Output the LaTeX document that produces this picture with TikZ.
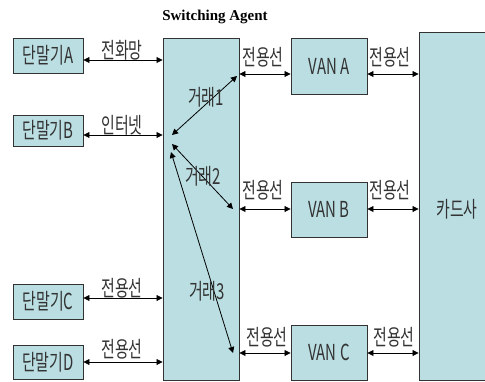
\documentclass[tikz,border=0pt]{standalone}
\usepackage{fontspec}
\setmainfont[FakeStretch=0.68]{Noto Sans CJK KR}
\newfontfamily\titlefont{Liberation Serif}
\usetikzlibrary{arrows.meta}
\definecolor{boxfill}{RGB}{186,222,226}
\definecolor{boxline}{RGB}{50,50,50}
\begin{document}
\begin{tikzpicture}[x=1pt,y=-1pt,
  box/.style={draw=boxline,line width=0.9pt,fill=boxfill,inner sep=0pt,
    font=\fontsize{22}{22}\selectfont,text=black!80},
  lbl/.style={inner sep=0pt,font=\fontsize{22}{22}\selectfont,text=black!80},
  conn/.style={line width=0.8pt,{Triangle[length=6pt,width=6pt]}-{Triangle[length=6pt,width=6pt]}}]
\useasboundingbox (0,0) rectangle (485,381);
\fill[white] (0,0) rectangle (485,381);
% boxes
\node[box,minimum width=70pt,minimum height=35pt] (tA) at (48,55.5) {단말기A};
\node[box,minimum width=70pt,minimum height=31pt] (tB) at (48,130.5) {단말기B};
\node[box,minimum width=70pt,minimum height=35pt] (tC) at (48,301.5) {단말기C};
\node[box,minimum width=70pt,minimum height=34pt] (tD) at (48,362) {단말기D};
\node[box,minimum width=76pt,minimum height=342pt] (sw) at (201,209) {};
\node[inner sep=0pt,font=\titlefont\bfseries\fontsize{15}{15}\selectfont] (title) at (215,17) {Switching Agent};
\node[box,minimum width=76pt,minimum height=56pt] (vA) at (329,66) {VAN A};
\node[box,minimum width=76pt,minimum height=55pt] (vB) at (329,209.5) {VAN B};
\node[box,minimum width=76pt,minimum height=55pt] (vC) at (329,352.5) {VAN C};
\node[box,minimum width=69pt,minimum height=348pt] (card) at (453.5,206) {};
\node[lbl] (cardlbl) at (457,209) {카드사};
% heights of connectors
\coordinate (ya) at (0,60);
\coordinate (yb) at (0,135);
\coordinate (yc) at (0,298);
\coordinate (yd) at (0,362);
\coordinate (yva) at (0,74);
\coordinate (yvb) at (0,209);
\coordinate (yvc) at (0,353);
% terminal connectors
\draw[conn] (tA.east |- ya) -- (sw.west |- ya);
\draw[conn] (tB.east |- yb) -- (sw.west |- yb);
\draw[conn] (tC.east |- yc) -- (sw.west |- yc);
\draw[conn] (tD.east |- yd) -- (sw.west |- yd);
\node[lbl] (la) at (122,50) {전화망};
\node[lbl] (lb) at (122,125) {인터넷};
\node[lbl] (lc) at (122,288) {전용선};
\node[lbl] (ld) at (122,349) {전용선};
% VAN connectors
\draw[conn] (sw.east |- yva) -- (vA.west |- yva);
\draw[conn] (vA.east |- yva) -- (card.west |- yva);
\draw[conn] (sw.east |- yvb) -- (vB.west |- yvb);
\draw[conn] (vB.east |- yvb) -- (card.west |- yvb);
\draw[conn] (sw.east |- yvc) -- (vC.west |- yvc);
\draw[conn] (vC.east |- yvc) -- (card.west |- yvc);
\node[lbl] (lva1) at (263,57) {전용선};
\node[lbl] (lva2) at (390,57) {전용선};
\node[lbl] (lvb1) at (263,190) {전용선};
\node[lbl] (lvb2) at (390,190) {전용선};
\node[lbl] (lvc1) at (267,337) {전용선};
\node[lbl] (lvc2) at (394,337) {전용선};
% transactions
\coordinate (t1s) at (172,135);
\coordinate (t1e) at (237,76);
\coordinate (t2s) at (172,144);
\coordinate (t2e) at (233,209);
\coordinate (t3s) at (171,152);
\coordinate (t3e) at (233,353);
\draw[conn] (t1s) -- (t1e);
\draw[conn] (t2s) -- (t2e);
\draw[conn] (t3s) -- (t3e);
\node[lbl] (g1) at (206,97) {거래1};
\node[lbl] (g2) at (203,176) {거래2};
\node[lbl] (g3) at (207,291) {거래3};
\end{tikzpicture}
\end{document}
